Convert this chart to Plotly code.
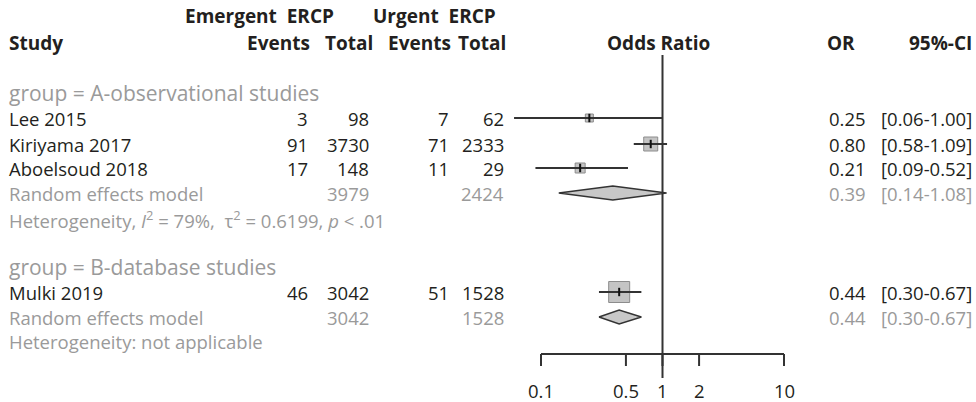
import plotly.graph_objects as go
import math

# ---------------- data ----------------
studies = ["Lee 2015", "Kiriyama 2017", "Aboelsoud 2018", "Mulki 2019"]
e_events = [3, 91, 17, 46]
e_total = [98, 3730, 148, 3042]
u_events = [7, 71, 11, 51]
u_total = [62, 2333, 29, 1528]
odds = [0.25, 0.80, 0.21, 0.44]
ci_lo = [0.06, 0.58, 0.09, 0.30]
ci_hi = [1.00, 1.09, 0.52, 0.67]
square_px = [8, 14, 10, 21]  # relative study weight as square size

group_labels = ["group = A-observational studies", "group = B-database studies"]
re_e_total = [3979, 3042]
re_u_total = [2424, 1528]
re_or = [0.39, 0.44]
re_lo = [0.14, 0.30]
re_hi = [1.08, 0.67]
het_text = ["Heterogeneity, <i>I</i><sup>2</sup> = 79%,  \u03c4<sup>2</sup> = 0.6199, <i>p</i> &lt; .01",
            "Heterogeneity: not applicable"]

tick_vals = [0.1, 0.5, 1, 2, 10]
tick_text = ["0.1", "0.5", "1", "2", "10"]

# ---------------- layout constants ----------------
W, H = 976, 402
FONT = "Open Sans"
BLACK = "#231f20"
GREY = "#9a9a9a"
LINE = "#333333"
FS = 18.5

study_y = [118, 144, 168, 292]
group_y = [93, 267]
re_y = [193, 317]
het_y = [219, 341]
axis_y = 354
tick_bot = 366
ticklab_y = 390

# x axis pixel mapping: x_px = 662.5 + 121.5*log10(v)
px0, px1 = 500, 810
lg0 = (px0 - 662.5) / 121.5
lg1 = (px1 - 662.5) / 121.5

fig = go.Figure()

def P(px):
    return px / W

ann = []
def txt(x, y, s, anchor="left", color=BLACK, size=FS, bold=False, xref="paper"):
    if bold:
        s = "<b>" + s + "</b>"
    ann.append(dict(x=x if xref != "paper" else P(x), y=y, xref=xref, yref="y", text=s,
                    showarrow=False, xanchor=anchor, yanchor="middle", borderpad=0,
                    font=dict(family=FONT, size=size, color=color)))

HB = 19
# headers
txt(259, 16, "Emergent  ERCP", "center", bold=True, size=HB)
txt(434, 16, "Urgent  ERCP", "center", bold=True, size=HB)
txt(8, 43, "Study", bold=True, size=HB)
txt(311, 43, "Events", "right", bold=True, size=HB)
txt(374, 43, "Total", "right", bold=True, size=HB)
txt(452, 43, "Events", "right", bold=True, size=HB)
txt(507, 43, "Total", "right", bold=True, size=HB)
txt(658, 43, "Odds Ratio", "center", bold=True, size=HB)
txt(826, 43, "OR", bold=True, size=HB)
txt(973, 43, "95%-CI", "right", bold=True, size=HB)

# studies
for i, s in enumerate(studies):
    y = study_y[i]
    txt(8, y, s)
    txt(309, y, str(e_events[i]), "right")
    txt(370, y, str(e_total[i]), "right")
    txt(450, y, str(u_events[i]), "right")
    txt(505, y, str(u_total[i]), "right")
    txt(867, y, f"{odds[i]:.2f}", "right")
    txt(973, y, f"[{ci_lo[i]:.2f}-{ci_hi[i]:.2f}]", "right")

for g in range(len(group_labels)):
    txt(8, group_y[g], group_labels[g], color=GREY, size=21)
    txt(8, re_y[g], "Random effects model", color=GREY)
    txt(370, re_y[g], str(re_e_total[g]), "right", color=GREY)
    txt(505, re_y[g], str(re_u_total[g]), "right", color=GREY)
    txt(867, re_y[g], f"{re_or[g]:.2f}", "right", color=GREY)
    txt(973, re_y[g], f"[{re_lo[g]:.2f}-{re_hi[g]:.2f}]", "right", color=GREY)
    txt(8, het_y[g], het_text[g], color=GREY, size=18.5)

# null line
fig.add_trace(go.Scatter(x=[1, 1], y=[55, 378], mode="lines",
                         line=dict(color=LINE, width=2), hoverinfo="skip"))

# axis line and ticks
fig.add_trace(go.Scatter(x=[tick_vals[0], tick_vals[-1]], y=[axis_y, axis_y], mode="lines",
                         line=dict(color=LINE, width=2), hoverinfo="skip"))
for tv, tt in zip(tick_vals, tick_text):
    fig.add_trace(go.Scatter(x=[tv, tv], y=[axis_y, tick_bot], mode="lines",
                             line=dict(color=LINE, width=2), hoverinfo="skip"))
    txt(math.log10(tv), ticklab_y, tt, "center", xref="x")

# squares + CIs
for i in range(len(studies)):
    y = study_y[i]
    fig.add_trace(go.Scatter(x=[odds[i]], y=[y], mode="markers",
                             marker=dict(symbol="square", size=square_px[i], color="#c4c4c4",
                                         line=dict(color="#8c8c8c", width=1)),
                             hoverinfo="skip"))
    fig.add_trace(go.Scatter(x=[ci_lo[i], ci_hi[i]], y=[y, y], mode="lines",
                             line=dict(color=LINE, width=2), hoverinfo="skip"))
    fig.add_trace(go.Scatter(x=[odds[i]], y=[y], mode="markers",
                             marker=dict(symbol="line-ns", size=6, line=dict(color="#111", width=2)),
                             hoverinfo="skip"))

# diamonds
for g in range(len(group_labels)):
    y = re_y[g]
    fig.add_trace(go.Scatter(x=[re_lo[g], re_or[g], re_hi[g], re_or[g], re_lo[g]],
                             y=[y, y - 7, y, y + 7, y], mode="lines", fill="toself",
                             fillcolor="#c8c8c8", line=dict(color=LINE, width=1.5),
                             hoverinfo="skip"))

fig.update_layout(
    width=W, height=H, margin=dict(l=0, r=0, t=0, b=0),
    paper_bgcolor="white", plot_bgcolor="white", showlegend=False,
    xaxis=dict(type="log", domain=[P(px0), P(px1)], range=[lg0, lg1],
               visible=False, fixedrange=True),
    yaxis=dict(range=[H, 0], domain=[0, 1], visible=False, fixedrange=True),
    annotations=ann,
)

fig.write_html("out.html", config={"displayModeBar": False},
               post_script="document.body.style.margin='0';document.body.style.overflow='hidden';")
